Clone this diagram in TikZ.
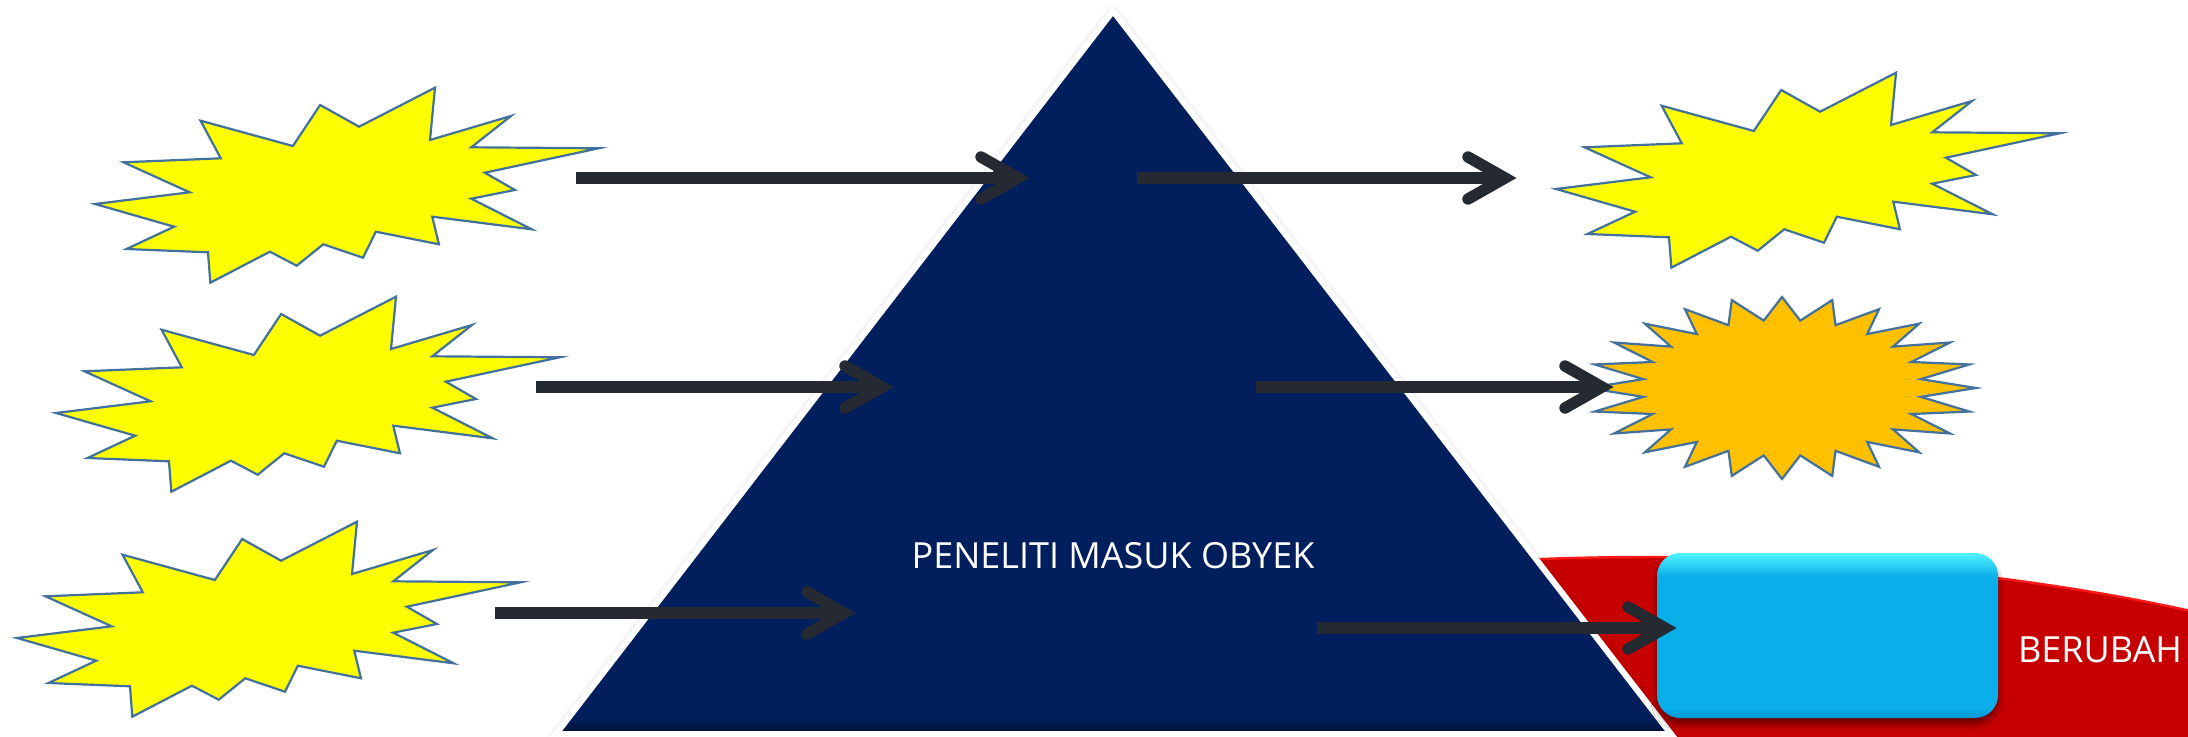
\documentclass[tikz,border=0pt]{standalone}
\usepackage{fontspec}
\setmainfont{Open Sans}
\usetikzlibrary{shadows.blur}

\definecolor{navy}{RGB}{0,31,92}
\definecolor{navydeep}{RGB}{0,14,50}
\definecolor{burstline}{RGB}{65,113,156}
\definecolor{burstyellow}{RGB}{255,255,0}
\definecolor{burstorange}{RGB}{255,192,0}
\definecolor{arrowgrey}{RGB}{37,41,50}
\definecolor{redfill}{RGB}{198,0,0}
\definecolor{rededge}{RGB}{255,24,24}
\definecolor{boxtop}{RGB}{80,245,255}
\definecolor{boxmid}{RGB}{10,174,232}
\definecolor{boxbot}{RGB}{0,150,210}

% glossy cyan fill for the result box
\pgfdeclareverticalshading{boxshade}{100bp}{color(0bp)=(boxbot); color(25bp)=(boxbot); color(28bp)=(boxmid); color(68bp)=(boxmid); color(75bp)=(boxtop); color(100bp)=(boxtop)}

% outline of the irregular burst, repeated with shifts
\newcommand\burstoutline{(93.7,204) -- (189.8,192.3) -- (122.6,162.3) -- (221.4,158.3) -- (200.9,120.7) -- (294.6,146) -- (322.3,105) -- (361.8,126.7) -- (438.9,87.7) -- (433.8,140) -- (516,116) -- (475.7,147.3) -- (605,148.3) -- (489.5,172.7) -- (520,190) -- (475.7,198.7) -- (537,229.3) -- (436.1,216.7) -- (442.9,244.3) -- (378.8,231.7) -- (365.8,257.7) -- (325.4,244.3) -- (298.5,265.7) -- (271.3,251.7) -- (210.8,282.7) -- (208.4,252.3) -- (125.7,249) -- (174,226.7) -- cycle}

% thick bar with an open chevron head
\newcommand\flowarrow[2]{%
  \draw[flowbar] (#1) -- ([xshift=-6pt]#2);
  \draw[flowhead] ([shift={(-49,-21)}]#2) -- ([xshift=-6pt]#2) -- ([shift={(-49,21)}]#2);
}

\tikzset{
  burst/.style={draw=burstline, line width=1.1pt, line join=miter, fill=burstyellow},
  oburst/.style={burst, fill=burstorange},
  flowbar/.style={draw=arrowgrey, line width=5.7pt},
  flowhead/.style={draw=arrowgrey, line width=5.7pt, line cap=round, line join=miter},
  lbl/.style={text=white, font=\fontsize{18}{22}\selectfont, inner sep=0pt},
  bluebox/.style={minimum width=170.5pt, minimum height=82.5pt, rounded corners=11.5pt,
    shading=boxshade, inner sep=0pt,
    blur shadow={shadow xshift=0pt, shadow yshift=-3pt, shadow blur radius=3pt, shadow opacity=45}},
}

\begin{document}
\begin{tikzpicture}[x=0.5pt, y=-0.5pt]
\useasboundingbox (0,0) rectangle (2188,737);

% red band behind the pyramid
\begin{scope}
  \clip (1450,520) rectangle (2188,737);
  \fill[redfill] (1650,897) ellipse [x radius=1000, y radius=340];
  \draw[rededge, line width=1.2pt] (1650,897) ellipse [x radius=1000, y radius=340];
\end{scope}

% pyramid
\coordinate (apex) at (1113,11);
\coordinate (bl) at (556,734);
\coordinate (br) at (1671,734);
\path[fill=navy, blur shadow={shadow xshift=0pt, shadow yshift=-1pt, shadow blur radius=4pt, shadow opacity=30}]
  (apex) -- (bl) -- (br) -- cycle;
\begin{scope}
  \clip (apex) -- (bl) -- (br) -- cycle;
  \shade[top color=navy, bottom color=navydeep] (500,718) rectangle (1700,734);
\end{scope}
\draw[white, line width=3pt, line join=miter] (apex) -- (bl) -- (br) -- cycle;

% result box
\node[bluebox] (chg) at (1827.5,635.5) {};

% incoming bursts
\draw[burst, shift={(2.7,0)}, xscale=0.985] \burstoutline;
\draw[burst, shift={(-36.3,209)}, xscale=0.985] \burstoutline;
\draw[burst, shift={(-75.3,434)}, xscale=0.985] \burstoutline;

% outgoing bursts
\draw[burst, shift={(1463.7,-15)}, xscale=0.985] \burstoutline;
\draw[oburst, shift={(1782,388)}] (0:194 and 91)
  \foreach \k in {0,...,23}{ -- ({\k*15+7.5}:140 and 68) -- ({(\k+1)*15}:194 and 91)} -- cycle;

% labels
\node[lbl] (obj) at (1113,555.5) {PENELITI MASUK OBYEK};
\node[lbl] (chtxt) at (2100,649.5) {BERUBAH};

% arrow end points
\coordinate (a1s) at (576,178);  \coordinate (a1t) at (1030,178);
\coordinate (a2s) at (1137,178); \coordinate (a2t) at (1517,178);
\coordinate (a3s) at (536,387);  \coordinate (a3t) at (894,387);
\coordinate (a4s) at (1256,387); \coordinate (a4t) at (1614,387);
\coordinate (a5s) at (495,613);  \coordinate (a5t) at (856,613);
\coordinate (a6s) at (1317,628); \coordinate (a6t) at (1677,628);

\flowarrow{a1s}{a1t}
\flowarrow{a2s}{a2t}
\flowarrow{a3s}{a3t}
\flowarrow{a4s}{a4t}
\flowarrow{a5s}{a5t}
\flowarrow{a6s}{a6t}
\end{tikzpicture}
\end{document}
